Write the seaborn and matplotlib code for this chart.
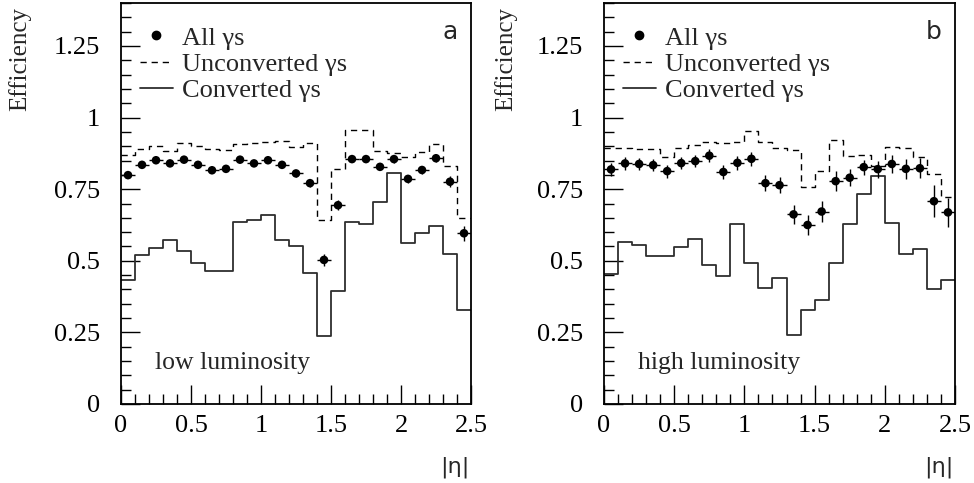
import numpy as np
import pandas as pd
import matplotlib
matplotlib.use("Agg")
import matplotlib.pyplot as plt
import seaborn as sns
from matplotlib.lines import Line2D
from matplotlib.ticker import MultipleLocator, FixedLocator, FixedFormatter

# ---------------- data ----------------
eta_min, eta_max, bin_width = 0.0, 2.5, 0.1
eta_edges = np.linspace(eta_min, eta_max, 26)
eta_centers = 0.5 * (eta_edges[:-1] + eta_edges[1:])

low_all = [0.799, 0.835, 0.851, 0.840, 0.853, 0.835, 0.816, 0.821, 0.853, 0.840,
           0.851, 0.835, 0.805, 0.771, 0.503, 0.694, 0.855, 0.855, 0.828, 0.855,
           0.786, 0.817, 0.858, 0.776, 0.596]
low_all_err = [0.010, 0.010, 0.009, 0.009, 0.009, 0.009, 0.009, 0.009, 0.009, 0.009,
               0.009, 0.010, 0.011, 0.012, 0.020, 0.018, 0.011, 0.011, 0.012, 0.012,
               0.015, 0.014, 0.014, 0.020, 0.026]
low_unconv = [0.870, 0.889, 0.902, 0.882, 0.911, 0.902, 0.891, 0.887, 0.908, 0.911,
              0.916, 0.919, 0.896, 0.911, 0.643, 0.821, 0.955, 0.955, 0.885, 0.876,
              0.862, 0.880, 0.909, 0.832, 0.650]
low_conv = [0.432, 0.519, 0.545, 0.572, 0.534, 0.492, 0.466, 0.466, 0.636, 0.643,
            0.659, 0.572, 0.550, 0.456, 0.238, 0.393, 0.636, 0.629, 0.705, 0.807,
            0.562, 0.596, 0.621, 0.524, 0.328]

high_all = [0.819, 0.840, 0.838, 0.834, 0.813, 0.841, 0.848, 0.867, 0.810, 0.842,
            0.856, 0.771, 0.764, 0.662, 0.625, 0.672, 0.778, 0.790, 0.827, 0.820,
            0.838, 0.821, 0.823, 0.708, 0.669]
high_all_err = [0.022, 0.022, 0.022, 0.022, 0.023, 0.022, 0.022, 0.022, 0.026, 0.025,
                0.024, 0.028, 0.027, 0.034, 0.034, 0.035, 0.035, 0.030, 0.026, 0.030,
                0.030, 0.035, 0.035, 0.055, 0.050]
high_unconv = [0.893, 0.895, 0.889, 0.891, 0.862, 0.893, 0.903, 0.916, 0.912, 0.916,
               0.953, 0.916, 0.895, 0.886, 0.758, 0.813, 0.922, 0.866, 0.870, 0.831,
               0.897, 0.895, 0.863, 0.802, 0.722]
high_conv = [0.455, 0.565, 0.554, 0.516, 0.518, 0.547, 0.576, 0.484, 0.448, 0.627,
             0.491, 0.405, 0.439, 0.240, 0.328, 0.362, 0.491, 0.627, 0.734, 0.796,
             0.631, 0.525, 0.540, 0.403, 0.432]

x_ticks = [0, 0.5, 1, 1.5, 2, 2.5]
x_ticklabels = ["0", "0.5", "1", "1.5", "2", "2.5"]
y_ticks = [0, 0.25, 0.5, 0.75, 1, 1.25]
y_ticklabels = ["0", "0.25", "0.5", "0.75", "1", "1.25"]

legend_labels = ["All \u03b3s", "Unconverted \u03b3s", "Converted \u03b3s"]
panel_tags = ["a", "b"]
lumi_labels = ["low luminosity", "high luminosity"]
y_label = "Efficiency"
x_label = "|\u03b7|"

# ---------------- style ----------------
sns.set_theme(style="white")
plt.rcParams["font.family"] = ["Liberation Serif", "DejaVu Serif"]
plt.rcParams["axes.linewidth"] = 1.3
plt.rcParams["axes.edgecolor"] = "black"

W, H = 974, 483
fig = plt.figure(figsize=(W / 100, H / 100), dpi=100)

def px_axes(left, top, right, bottom):
    return fig.add_axes([left / W, 1 - bottom / H, (right - left) / W, (bottom - top) / H])

ax_a = px_axes(121, 3, 471, 404)
ax_b = px_axes(604, 3, 955, 404)

DASH = (0, (4.5, 3.5))
LINE_COL = "#2e2e2e"

def draw_panel(ax, all_v, all_e, unconv, conv, tag, lumi, ylab_x):
    df = pd.DataFrame({"eta": eta_centers, "all": all_v, "err": all_e,
                       "unconv": unconv, "conv": conv})
    sns.histplot(data=df, x="eta", weights="unconv", binwidth=bin_width,
                 binrange=(eta_min, eta_max), element="step",
                 fill=False, color="black", linestyle=DASH, linewidth=1.0, ax=ax)
    sns.histplot(data=df, x="eta", weights="conv", binwidth=bin_width,
                 binrange=(eta_min, eta_max), element="step",
                 fill=False, color=LINE_COL, linewidth=1.3, ax=ax)
    ax.errorbar(df["eta"], df["all"], xerr=bin_width / 2, yerr=df["err"], fmt="none",
                ecolor="black", elinewidth=1.0, capsize=0, zorder=4)
    sns.scatterplot(data=df, x="eta", y="all", color="black", s=38, edgecolor="none",
                    ax=ax, zorder=5, legend=False)

    ax.set_xlim(eta_min, eta_max)
    ax.set_ylim(0, 1.4)
    ax.xaxis.set_major_locator(FixedLocator(x_ticks))
    ax.xaxis.set_major_formatter(FixedFormatter(x_ticklabels))
    ax.yaxis.set_major_locator(FixedLocator(y_ticks))
    ax.yaxis.set_major_formatter(FixedFormatter(y_ticklabels))
    ax.xaxis.set_minor_locator(MultipleLocator(0.1))
    ax.yaxis.set_minor_locator(MultipleLocator(0.05))
    ax.tick_params(which="both", direction="in", top=False, right=False,
                   bottom=True, left=True, colors="black", labelsize=19)
    ax.tick_params(which="major", length=14, width=1.0)
    ax.tick_params(which="minor", length=7, width=1.0)
    ax.tick_params(axis="x", which="major", pad=8)
    ax.tick_params(axis="y", which="major", pad=15)
    for s in ax.spines.values():
        s.set_visible(True)
        s.set_color("black")
        s.set_linewidth(1.3)

    ax.set_ylabel(y_label, fontsize=18, loc="top")
    ax.yaxis.set_label_coords(ylab_x, 0.99)
    ax.set_xlabel(x_label, fontsize=16, loc="right", family=["DejaVu Sans"])
    ax.xaxis.set_label_coords(0.995, -0.13)

    handles = [
        Line2D([], [], linestyle="none", marker="o", markersize=6, color="black"),
        Line2D([], [], linestyle=DASH, linewidth=1.0, color="black"),
        Line2D([], [], linestyle="-", linewidth=1.3, color=LINE_COL),
    ]
    ax.legend(handles, legend_labels, loc="upper left", bbox_to_anchor=(0.054, 0.942),
              frameon=False, fontsize=19, handlelength=1.25, handletextpad=0.35,
              labelspacing=0.1, borderaxespad=0.0, borderpad=0.0)

    ax.text(0.94, 0.928, tag, transform=ax.transAxes, fontsize=18, ha="center",
            va="center", family=["DejaVu Sans"])
    ax.text(0.097, 0.103, lumi, transform=ax.transAxes, fontsize=18.5, ha="left",
            va="center")

draw_panel(ax_a, low_all, low_all_err, low_unconv, low_conv, panel_tags[0],
           lumi_labels[0], -0.257)
draw_panel(ax_b, high_all, high_all_err, high_unconv, high_conv, panel_tags[1],
           lumi_labels[1], -0.247)

fig.savefig("out.png", dpi=100, facecolor="white")
